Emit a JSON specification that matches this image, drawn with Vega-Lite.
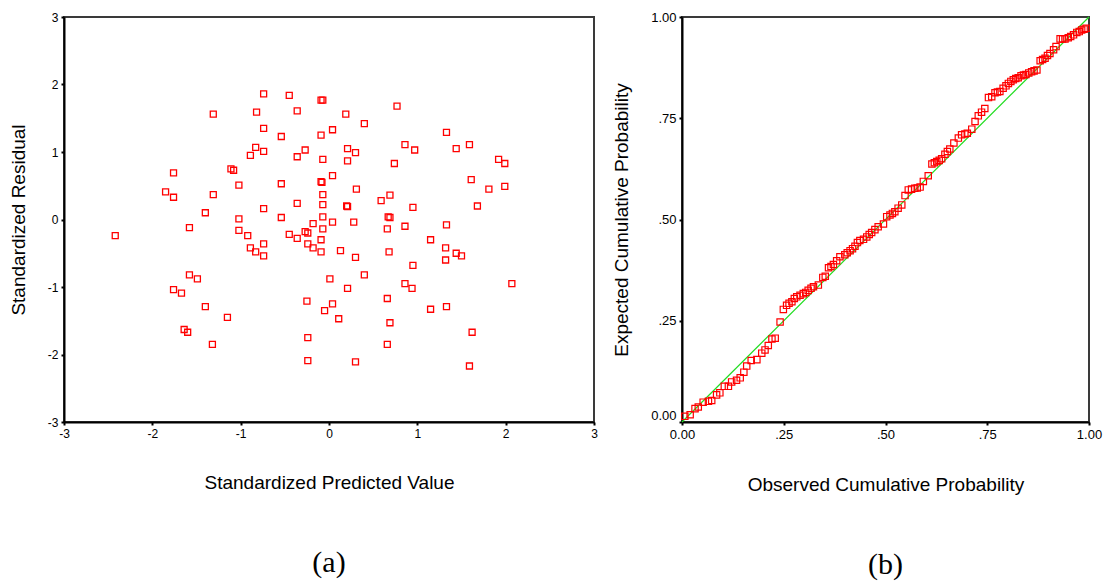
{
  "$schema": "https://vega.github.io/schema/vega-lite/v6.json",
  "background": "white",
  "padding": {"left": 8, "top": 10, "right": 5, "bottom": 3},
  "bounds": "flush",
  "spacing": 88,
  "config": {
    "view": {"stroke": "#3a3a3a", "strokeWidth": 2},
    "axis": {"domainColor": "black", "domainWidth": 2, "tickColor": "black", "tickWidth": 2, "tickSize": 3, "labelFont": "Liberation Sans", "labelColor": "black", "titleFont": "Liberation Sans", "titleColor": "black", "titleFontWeight": "normal", "grid": false, "labelFontSize": 12, "titleFontSize": 19, "labelPadding": 3, "labelFlush": false},
    "title": {"font": "Liberation Serif", "fontSize": 30, "fontWeight": "normal", "color": "black", "orient": "bottom", "anchor": "middle", "offset": 56}
  },
  "datasets": {
    "resid": [
      {"pred": -0.74, "res": 1.86}, {"pred": -0.45, "res": 1.84}, {"pred": -0.09, "res": 1.77}, {"pred": -0.07, "res": 1.77},
      {"pred": -1.31, "res": 1.56}, {"pred": -0.82, "res": 1.59}, {"pred": -0.36, "res": 1.61}, {"pred": -0.74, "res": 1.35},
      {"pred": -0.54, "res": 1.23}, {"pred": -0.09, "res": 1.25}, {"pred": 0.04, "res": 1.33}, {"pred": -0.83, "res": 1.07},
      {"pred": -0.74, "res": 1.01}, {"pred": -0.89, "res": 0.95}, {"pred": -0.36, "res": 0.93}, {"pred": -0.27, "res": 1.03},
      {"pred": -0.07, "res": 0.89}, {"pred": -1.76, "res": 0.69}, {"pred": -1.11, "res": 0.75}, {"pred": -1.08, "res": 0.73},
      {"pred": 0.04, "res": 0.65}, {"pred": -1.02, "res": 0.51}, {"pred": -0.54, "res": 0.53}, {"pred": -0.09, "res": 0.56},
      {"pred": -0.08, "res": 0.55}, {"pred": -1.85, "res": 0.41}, {"pred": -1.76, "res": 0.33}, {"pred": -1.31, "res": 0.37},
      {"pred": -0.07, "res": 0.37}, {"pred": -0.36, "res": 0.24}, {"pred": -0.07, "res": 0.22}, {"pred": -1.40, "res": 0.10},
      {"pred": -0.74, "res": 0.16}, {"pred": -1.02, "res": 0.01}, {"pred": -0.54, "res": 0.03}, {"pred": -0.07, "res": 0.04},
      {"pred": 0.77, "res": 1.68}, {"pred": 0.19, "res": 1.56}, {"pred": 0.40, "res": 1.42}, {"pred": 1.33, "res": 1.29},
      {"pred": 0.21, "res": 1.05}, {"pred": 0.30, "res": 0.99}, {"pred": 0.86, "res": 1.11}, {"pred": 0.97, "res": 1.03},
      {"pred": 1.44, "res": 1.05}, {"pred": 1.59, "res": 1.11}, {"pred": 0.21, "res": 0.87}, {"pred": 0.74, "res": 0.83},
      {"pred": 1.92, "res": 0.89}, {"pred": 1.99, "res": 0.83}, {"pred": 0.31, "res": 0.45}, {"pred": 1.61, "res": 0.59},
      {"pred": 1.81, "res": 0.45}, {"pred": 1.99, "res": 0.49}, {"pred": 0.69, "res": 0.36}, {"pred": 0.59, "res": 0.28},
      {"pred": 0.20, "res": 0.20}, {"pred": 0.21, "res": 0.19}, {"pred": 0.95, "res": 0.18}, {"pred": 1.68, "res": 0.20},
      {"pred": 0.67, "res": 0.04}, {"pred": 0.69, "res": 0.03}, {"pred": -2.42, "res": -0.24}, {"pred": -1.58, "res": -0.12},
      {"pred": -0.18, "res": -0.06}, {"pred": -0.07, "res": -0.14}, {"pred": 0.04, "res": -0.04}, {"pred": -1.02, "res": -0.16},
      {"pred": -0.92, "res": -0.24}, {"pred": -0.45, "res": -0.22}, {"pred": -0.27, "res": -0.18}, {"pred": -0.24, "res": -0.20},
      {"pred": -0.36, "res": -0.28}, {"pred": -0.09, "res": -0.30}, {"pred": -0.89, "res": -0.42}, {"pred": -0.83, "res": -0.48},
      {"pred": -0.74, "res": -0.36}, {"pred": -0.74, "res": -0.54}, {"pred": -0.24, "res": -0.36}, {"pred": -0.18, "res": -0.42},
      {"pred": -0.09, "res": -0.48}, {"pred": -1.58, "res": -0.82}, {"pred": -1.49, "res": -0.88}, {"pred": -1.76, "res": -1.04},
      {"pred": -1.67, "res": -1.09}, {"pred": -1.40, "res": -1.29}, {"pred": -1.15, "res": -1.45}, {"pred": -0.25, "res": -1.21},
      {"pred": -0.05, "res": -1.35}, {"pred": 0.01, "res": -0.88}, {"pred": 0.04, "res": -1.25}, {"pred": -1.64, "res": -1.63},
      {"pred": -1.60, "res": -1.67}, {"pred": -1.32, "res": -1.85}, {"pred": -0.24, "res": -1.75}, {"pred": -0.24, "res": -2.09},
      {"pred": 0.28, "res": -0.04}, {"pred": 0.86, "res": -0.10}, {"pred": 1.33, "res": -0.08}, {"pred": 0.66, "res": -0.14},
      {"pred": 0.13, "res": -0.46}, {"pred": 0.30, "res": -0.56}, {"pred": 0.68, "res": -0.48}, {"pred": 1.15, "res": -0.30},
      {"pred": 1.32, "res": -0.42}, {"pred": 1.44, "res": -0.50}, {"pred": 1.50, "res": -0.54}, {"pred": 1.32, "res": -0.60},
      {"pred": 0.95, "res": -0.68}, {"pred": 0.40, "res": -0.82}, {"pred": 0.21, "res": -1.02}, {"pred": 0.86, "res": -0.95},
      {"pred": 0.94, "res": -1.02}, {"pred": 2.07, "res": -0.95}, {"pred": 0.11, "res": -1.47}, {"pred": 0.66, "res": -1.17},
      {"pred": 0.69, "res": -1.53}, {"pred": 1.15, "res": -1.33}, {"pred": 1.33, "res": -1.29}, {"pred": 0.66, "res": -1.85},
      {"pred": 1.62, "res": -1.67}, {"pred": 0.30, "res": -2.11}, {"pred": 1.59, "res": -2.17}
    ],
    "pp": [
      {"obs": 0.007, "exp": 0.014}, {"obs": 0.020, "exp": 0.018}, {"obs": 0.032, "exp": 0.033}, {"obs": 0.040, "exp": 0.037},
      {"obs": 0.052, "exp": 0.049}, {"obs": 0.065, "exp": 0.051}, {"obs": 0.073, "exp": 0.053}, {"obs": 0.085, "exp": 0.067},
      {"obs": 0.093, "exp": 0.072}, {"obs": 0.104, "exp": 0.088}, {"obs": 0.114, "exp": 0.088}, {"obs": 0.122, "exp": 0.099},
      {"obs": 0.134, "exp": 0.103}, {"obs": 0.143, "exp": 0.109}, {"obs": 0.152, "exp": 0.123}, {"obs": 0.159, "exp": 0.138},
      {"obs": 0.170, "exp": 0.152}, {"obs": 0.184, "exp": 0.154}, {"obs": 0.196, "exp": 0.170}, {"obs": 0.204, "exp": 0.178},
      {"obs": 0.212, "exp": 0.189}, {"obs": 0.221, "exp": 0.205}, {"obs": 0.229, "exp": 0.207}, {"obs": 0.241, "exp": 0.247},
      {"obs": 0.249, "exp": 0.278}, {"obs": 0.257, "exp": 0.288}, {"obs": 0.263, "exp": 0.293}, {"obs": 0.270, "exp": 0.297},
      {"obs": 0.276, "exp": 0.305}, {"obs": 0.282, "exp": 0.309}, {"obs": 0.290, "exp": 0.313}, {"obs": 0.298, "exp": 0.317},
      {"obs": 0.304, "exp": 0.320}, {"obs": 0.310, "exp": 0.325}, {"obs": 0.317, "exp": 0.330}, {"obs": 0.323, "exp": 0.334},
      {"obs": 0.335, "exp": 0.338}, {"obs": 0.346, "exp": 0.357}, {"obs": 0.352, "exp": 0.360}, {"obs": 0.360, "exp": 0.381},
      {"obs": 0.366, "exp": 0.384}, {"obs": 0.372, "exp": 0.389}, {"obs": 0.380, "exp": 0.398}, {"obs": 0.388, "exp": 0.408},
      {"obs": 0.400, "exp": 0.413}, {"obs": 0.406, "exp": 0.418}, {"obs": 0.413, "exp": 0.423}, {"obs": 0.419, "exp": 0.428},
      {"obs": 0.425, "exp": 0.434}, {"obs": 0.431, "exp": 0.443}, {"obs": 0.437, "exp": 0.448}, {"obs": 0.446, "exp": 0.451},
      {"obs": 0.454, "exp": 0.457}, {"obs": 0.460, "exp": 0.463}, {"obs": 0.466, "exp": 0.468}, {"obs": 0.474, "exp": 0.475},
      {"obs": 0.482, "exp": 0.482}, {"obs": 0.495, "exp": 0.489}, {"obs": 0.503, "exp": 0.507}, {"obs": 0.511, "exp": 0.511},
      {"obs": 0.517, "exp": 0.515}, {"obs": 0.523, "exp": 0.519}, {"obs": 0.531, "exp": 0.528}, {"obs": 0.540, "exp": 0.536},
      {"obs": 0.548, "exp": 0.559}, {"obs": 0.556, "exp": 0.573}, {"obs": 0.564, "exp": 0.575}, {"obs": 0.572, "exp": 0.577},
      {"obs": 0.578, "exp": 0.578}, {"obs": 0.585, "exp": 0.580}, {"obs": 0.593, "exp": 0.594}, {"obs": 0.605, "exp": 0.608},
      {"obs": 0.614, "exp": 0.637}, {"obs": 0.620, "exp": 0.640}, {"obs": 0.626, "exp": 0.643}, {"obs": 0.632, "exp": 0.646},
      {"obs": 0.638, "exp": 0.650}, {"obs": 0.646, "exp": 0.661}, {"obs": 0.652, "exp": 0.668}, {"obs": 0.658, "exp": 0.674},
      {"obs": 0.668, "exp": 0.689}, {"obs": 0.679, "exp": 0.701}, {"obs": 0.687, "exp": 0.709}, {"obs": 0.695, "exp": 0.711},
      {"obs": 0.701, "exp": 0.713}, {"obs": 0.712, "exp": 0.723}, {"obs": 0.720, "exp": 0.742}, {"obs": 0.728, "exp": 0.756},
      {"obs": 0.736, "exp": 0.765}, {"obs": 0.744, "exp": 0.774}, {"obs": 0.753, "exp": 0.801}, {"obs": 0.761, "exp": 0.803},
      {"obs": 0.769, "exp": 0.813}, {"obs": 0.775, "exp": 0.815}, {"obs": 0.781, "exp": 0.816}, {"obs": 0.789, "exp": 0.824},
      {"obs": 0.796, "exp": 0.830}, {"obs": 0.802, "exp": 0.836}, {"obs": 0.808, "exp": 0.841}, {"obs": 0.814, "exp": 0.845},
      {"obs": 0.820, "exp": 0.848}, {"obs": 0.826, "exp": 0.850}, {"obs": 0.833, "exp": 0.855}, {"obs": 0.839, "exp": 0.857},
      {"obs": 0.845, "exp": 0.858}, {"obs": 0.852, "exp": 0.862}, {"obs": 0.859, "exp": 0.865}, {"obs": 0.865, "exp": 0.867},
      {"obs": 0.872, "exp": 0.869}, {"obs": 0.880, "exp": 0.892}, {"obs": 0.886, "exp": 0.895}, {"obs": 0.892, "exp": 0.898},
      {"obs": 0.898, "exp": 0.905}, {"obs": 0.904, "exp": 0.910}, {"obs": 0.913, "exp": 0.919}, {"obs": 0.919, "exp": 0.927},
      {"obs": 0.929, "exp": 0.946}, {"obs": 0.935, "exp": 0.946}, {"obs": 0.941, "exp": 0.946}, {"obs": 0.949, "exp": 0.949},
      {"obs": 0.955, "exp": 0.952}, {"obs": 0.962, "exp": 0.956}, {"obs": 0.970, "exp": 0.962}, {"obs": 0.976, "exp": 0.964},
      {"obs": 0.982, "exp": 0.968}, {"obs": 0.988, "exp": 0.970}, {"obs": 0.993, "exp": 0.972}
    ],
    "diag": [{"obs": 0, "exp": 0}, {"obs": 1, "exp": 1}]
  },
  "hconcat": [
    {
      "width": 530,
      "height": 405,
      "title": {"text": "(a)"},
      "data": {"name": "resid"},
      "mark": {"type": "point", "shape": "square", "filled": false, "color": "#ff0000", "size": 36, "strokeWidth": 1.3, "opacity": 1},
      "encoding": {
        "x": {"field": "pred", "type": "quantitative",
          "scale": {"domain": [-3, 3], "nice": false, "zero": false},
          "axis": {"values": [-3, -2, -1, 0, 1, 2, 3], "title": "Standardized Predicted Value", "titlePadding": 34,
            "labelExpr": "datum.value < 0 ? '-' + abs(datum.value) : '' + datum.value"}},
        "y": {"field": "res", "type": "quantitative",
          "scale": {"domain": [-3, 3], "nice": false, "zero": false},
          "axis": {"values": [-3, -2, -1, 0, 1, 2, 3], "title": "Standardized Residual", "titlePadding": 19,
            "labelExpr": "datum.value < 0 ? '-' + abs(datum.value) : '' + datum.value"}}
      }
    },
    {
      "width": 407,
      "height": 405,
      "title": {"text": "(b)"},
      "layer": [
        {
          "data": {"name": "diag"},
          "mark": {"type": "line", "color": "#22dd22", "strokeWidth": 1.2},
          "encoding": {
            "x": {"field": "obs", "type": "quantitative"},
            "y": {"field": "exp", "type": "quantitative"}
          }
        },
        {
          "data": {"name": "pp"},
          "mark": {"type": "point", "shape": "square", "filled": false, "color": "#ff0000", "size": 40, "strokeWidth": 1.2, "opacity": 1},
          "encoding": {
            "x": {"field": "obs", "type": "quantitative",
              "scale": {"domain": [0, 1], "nice": false},
              "axis": {"values": [0, 0.25, 0.5, 0.75, 1], "title": "Observed Cumulative Probability", "titlePadding": 34, "labelFontSize": 13,
                "labelExpr": "datum.value == 0 ? '0.00' : datum.value == 1 ? '1.00' : replace(format(datum.value, '.2f'), '0.', '.')"}},
            "y": {"field": "exp", "type": "quantitative",
              "scale": {"domain": [0, 1], "nice": false},
              "axis": {"values": [0, 0.25, 0.5, 0.75, 1], "title": "Expected Cumulative Probability", "titlePadding": 19, "labelFontSize": 13,
                "labelOffset": {"condition": {"test": "datum.value == 0", "value": -7}, "value": 0},
                "labelExpr": "datum.value == 0 ? '0.00' : datum.value == 1 ? '1.00' : replace(format(datum.value, '.2f'), '0.', '.')"}}
          }
        }
      ]
    }
  ]
}
